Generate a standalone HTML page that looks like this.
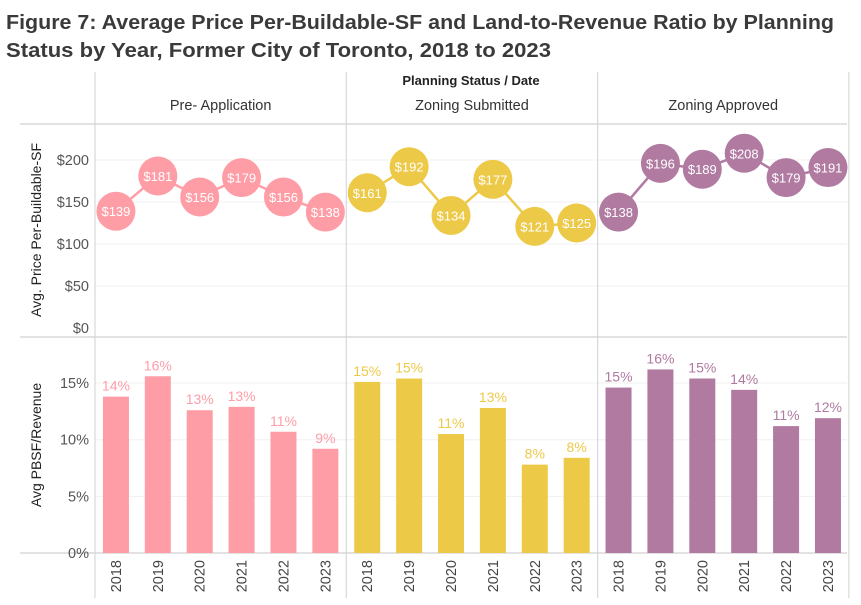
<!DOCTYPE html>
<html><head><meta charset="utf-8">
<style>
body{margin:0;background:#fff;width:861px;height:605px;overflow:hidden;font-family:"Liberation Sans",sans-serif}
svg{display:block}
</style></head>
<body>
<svg id="c" width="861" height="605">
<text x="6" y="29" font-size="20.5" font-weight="bold" fill="#3a3a3a" textLength="828" lengthAdjust="spacingAndGlyphs">Figure 7: Average Price Per-Buildable-SF and Land-to-Revenue Ratio by Planning</text>
<text x="6" y="57" font-size="20.5" font-weight="bold" fill="#3a3a3a" textLength="545" lengthAdjust="spacingAndGlyphs">Status by Year, Former City of Toronto, 2018 to 2023</text>
<text x="471" y="85" font-size="13" font-weight="bold" fill="#222" text-anchor="middle">Planning Status  /  Date</text>
</svg>
<script>
const statuses=["Pre- Application","Zoning Submitted","Zoning Approved"];
const years=["2018","2019","2020","2021","2022","2023"];
const colors=["#ff9da7","#edc948","#b07aa1"];
const priceValues=[[139,181,156,179,156,138],[161,192,134,177,121,125],[138,196,189,208,179,191]];
const ratioValues=[[13.8,15.6,12.6,12.9,10.7,9.2],[15.1,15.4,10.5,12.8,7.8,8.4],[14.6,16.2,15.4,14.4,11.2,11.9]];
const priceTicks=[0,50,100,150,200];
const ratioTicks=[0,5,10,15];

const svg=document.getElementById('c');
const NS='http://www.w3.org/2000/svg';
function mk(t,a,txt){const e=document.createElementNS(NS,t);for(const k in a)e.setAttribute(k,a[k]);if(txt!=null)e.textContent=txt;svg.appendChild(e);return e;}
const X0=95,PW=251.3,slot=PW/6;
const yP=v=>328-v*0.84;
const yR=v=>553-v*11.33;
const xC=(p,i)=>X0+p*PW+slot*(i+0.5);

for(const t of priceTicks){if(t===0)continue;const g=mk('line',{x1:X0,x2:847,y1:yP(t),y2:yP(t),stroke:'#f0f0f0'});}
for(const t of ratioTicks){if(t===0)continue;const g=mk('line',{x1:X0,x2:847,y1:yR(t),y2:yR(t),stroke:'#f0f0f0'});}
[[20,124,847,124],[20,337,847,337],[20,553,847,553]].forEach(a=>{const l=mk('line',{x1:a[0],y1:a[1],x2:a[2],y2:a[3],stroke:'#d8d8d8','stroke-width':1.5});});
for(let p=0;p<=3;p++){const l=mk('line',{x1:X0+p*PW,x2:X0+p*PW,y1:72,y2:598,stroke:'#d8d8d8','stroke-width':1.2});}

for(const t of priceTicks){const e=mk('text',{x:89,y:yP(t)+5,'font-size':14.5,fill:'#555','text-anchor':'end'},'$'+t);}
for(const t of ratioTicks){const e=mk('text',{x:89,y:yR(t)+5,'font-size':14.5,fill:'#555','text-anchor':'end'},t+'%');}
let e=mk('text',{x:0,y:0,'font-size':14,fill:'#222',transform:'translate(41,230) rotate(-90)','text-anchor':'middle'},'Avg. Price Per-Buildable-SF');

e=mk('text',{x:0,y:0,'font-size':14,fill:'#222',transform:'translate(41,445) rotate(-90)','text-anchor':'middle'},'Avg PBSF/Revenue');


statuses.forEach((s,p)=>{
  const h=mk('text',{x:X0+p*PW+PW/2,y:110,'font-size':14.5,fill:'#333','text-anchor':'middle'},s);
  
  const pts=priceValues[p].map((v,i)=>xC(p,i)+','+yP(v)).join(' ');
  const pl=mk('polyline',{points:pts,fill:'none',stroke:colors[p],'stroke-width':2.5});
  
  priceValues[p].forEach((v,i)=>{
    const c=mk('circle',{cx:xC(p,i),cy:yP(v),r:19.5,fill:colors[p]});
    
    const t=mk('text',{x:xC(p,i),y:yP(v)+5,'font-size':13,fill:'#fff','text-anchor':'middle'},'$'+v);
    
  });
  ratioValues[p].forEach((v,i)=>{
    const b=mk('rect',{x:xC(p,i)-13,y:yR(v),width:26,height:553-yR(v),fill:colors[p]});
    
    const t=mk('text',{x:xC(p,i),y:yR(v)-6,'font-size':14,fill:colors[p],'text-anchor':'middle'},Math.round(v)+'%');
    
  });
  years.forEach((y,i)=>{
    const t=mk('text',{x:0,y:0,'font-size':14.5,fill:'#444','text-anchor':'end',transform:`translate(${xC(p,i)+5},560) rotate(-90)`},y);
    
  });
});
</script>
</body></html>
